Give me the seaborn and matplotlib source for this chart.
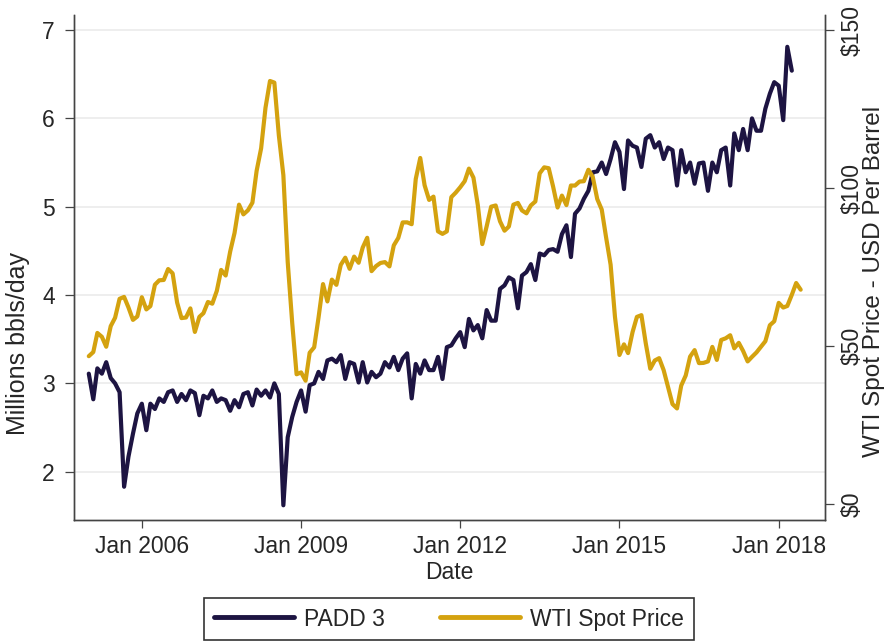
import pandas as pd
import matplotlib
matplotlib.use("Agg")
import matplotlib.pyplot as plt
import matplotlib.dates as mdates
import seaborn as sns

# PADD 3 crude output, million bbls/day, monthly Jan 2005 - Apr 2018
padd3 = [3.11, 2.82, 3.17, 3.11, 3.24, 3.06, 3.00, 2.90, 1.83, 2.17, 2.43, 2.66,
         2.77, 2.47, 2.77, 2.71, 2.83, 2.79, 2.90, 2.92, 2.79, 2.88, 2.81, 2.92,
         2.89, 2.64, 2.86, 2.83, 2.92, 2.79, 2.83, 2.81, 2.69, 2.81, 2.73, 2.88,
         2.90, 2.75, 2.93, 2.86, 2.92, 2.84, 3.00, 2.88, 1.62, 2.39, 2.62, 2.79,
         2.92, 2.68, 2.98, 3.00, 3.13, 3.05, 3.26, 3.28, 3.24, 3.32, 3.05, 3.24,
         3.22, 3.01, 3.24, 3.01, 3.13, 3.07, 3.11, 3.24, 3.18, 3.30, 3.15, 3.28,
         3.34, 2.83, 3.22, 3.11, 3.26, 3.15, 3.15, 3.30, 3.05, 3.41, 3.43, 3.51,
         3.58, 3.41, 3.73, 3.60, 3.66, 3.51, 3.83, 3.71, 3.71, 4.07, 4.11, 4.20,
         4.17, 3.85, 4.22, 4.26, 4.35, 4.17, 4.47, 4.45, 4.51, 4.52, 4.49, 4.69,
         4.79, 4.43, 4.92, 4.98, 5.09, 5.18, 5.39, 5.40, 5.50, 5.37, 5.54, 5.73,
         5.62, 5.20, 5.75, 5.69, 5.67, 5.45, 5.77, 5.81, 5.67, 5.73, 5.54, 5.67,
         5.64, 5.24, 5.64, 5.39, 5.50, 5.26, 5.49, 5.50, 5.18, 5.50, 5.39, 5.64,
         5.67, 5.24, 5.83, 5.64, 5.88, 5.64, 6.00, 5.86, 5.86, 6.11, 6.28, 6.41,
         6.37, 5.98, 6.81, 6.54]

# WTI spot price, USD per barrel, monthly Jan 2005 - Jun 2018
wti = [46.84, 48.15, 54.19, 52.98, 49.83, 56.35, 59.00, 64.99, 65.59, 62.26, 58.32, 59.41,
       65.49, 61.63, 62.69, 69.44, 70.84, 70.95, 74.41, 73.04, 63.80, 58.89, 59.08, 61.96,
       54.51, 59.28, 60.44, 63.98, 63.45, 67.49, 74.12, 72.36, 79.92, 85.80, 94.77, 91.69,
       92.97, 95.39, 105.45, 112.58, 125.40, 133.88, 133.37, 116.67, 104.11, 76.61, 57.31, 41.12,
       41.71, 39.09, 47.94, 49.65, 59.03, 69.64, 64.15, 71.05, 69.41, 75.72, 77.99, 74.47,
       78.33, 76.39, 81.20, 84.29, 73.74, 75.34, 76.32, 76.60, 75.24, 81.89, 84.25, 89.15,
       89.17, 88.58, 102.86, 109.53, 100.90, 96.26, 97.30, 86.33, 85.52, 86.32, 97.16, 98.56,
       100.27, 102.20, 106.16, 103.32, 94.66, 82.30, 87.90, 94.13, 94.51, 89.49, 86.53, 87.86,
       94.76, 95.31, 92.94, 92.02, 94.51, 95.77, 104.67, 106.57, 106.29, 100.54, 93.86, 97.63,
       94.62, 100.82, 100.80, 102.07, 102.18, 105.79, 103.59, 96.54, 93.21, 84.40, 75.79, 59.29,
       47.22, 50.58, 47.82, 54.45, 59.27, 59.82, 50.90, 42.87, 45.48, 46.22, 42.44, 37.19,
       31.68, 30.32, 37.55, 40.75, 46.71, 48.76, 44.65, 44.72, 45.18, 49.78, 45.66, 51.97,
       52.50, 53.47, 49.33, 51.06, 48.48, 45.18, 46.63, 48.04, 49.82, 51.58, 56.64, 57.88,
       63.70, 62.23, 62.72, 66.25, 69.98, 67.87]

tick_dates = ["2006-01-01", "2009-01-01", "2012-01-01", "2015-01-01", "2018-01-01"]
left_ticks = [2, 3, 4, 5, 6, 7]
right_ticks = [0, 50, 100, 150]
right_labels = [r"\$0", r"\$50", r"\$100", r"\$150"]

navy = "#1d1442"
gold = "#d4a20f"
edge = "#444444"

prod = pd.DataFrame({"date": pd.date_range("2005-01-01", periods=len(padd3), freq="MS"),
                     "mbd": padd3})
price = pd.DataFrame({"date": pd.date_range("2005-01-01", periods=len(wti), freq="MS"),
                      "usd": wti})

sns.set_style("white")
plt.rcParams["font.family"] = ["Liberation Sans", "DejaVu Sans"]

fig = plt.figure(figsize=(8.88, 6.42), dpi=100)
ax = fig.add_axes([0.0828, 0.1908, 0.8457, 0.7858])

sns.lineplot(data=prod, x="date", y="mbd", ax=ax, color=navy, lw=3.0,
             label="PADD 3", legend=False)
ax2 = ax.twinx()
sns.lineplot(data=price, x="date", y="usd", ax=ax2, color=gold, lw=3.0,
             label="WTI Spot Price", legend=False)

ax.set_xlim(pd.Timestamp("2004-09-18"), pd.Timestamp("2018-11-12"))
ax.set_ylim(1.459, 7.170)
ax2.set_ylim(-4.81, 154.74)

ax.set_xticks(pd.to_datetime(tick_dates))
ax.xaxis.set_major_formatter(mdates.DateFormatter("%b %Y"))
ax.set_yticks(left_ticks)
ax2.set_yticks(right_ticks)
ax2.set_yticklabels(right_labels, rotation=90, va="center")

ax.yaxis.grid(True, color="#ebebeb", lw=1.2)
ax.xaxis.grid(False)
ax2.grid(False)

for a in (ax, ax2):
    a.spines["top"].set_visible(False)
    for s in ("left", "right", "bottom"):
        a.spines[s].set_color(edge)
        a.spines[s].set_linewidth(1.0)

ax.tick_params(axis="x", bottom=True, direction="out", length=6, width=0.9,
               color=edge, labelsize=16.5, pad=5)
ax.tick_params(axis="y", left=True, direction="out", length=6.5, width=0.9,
               color=edge, labelsize=16.5, pad=7)
ax2.tick_params(axis="y", right=True, left=False, direction="out", length=6.5,
                width=0.9, color=edge, labelsize=16.5, pad=5)

ax.set_xlabel("Date", fontsize=16.5, va="center")
ax.xaxis.set_label_coords(0.5, -0.106)
ax.set_ylabel("Millions bbls/day", fontsize=18, va="center")
ax.yaxis.set_label_coords(-0.0739, 0.348)
ax2.set_ylabel("WTI Spot Price - USD Per Barrel", fontsize=17.5, va="center")
ax2.yaxis.set_label_coords(1.066, 0.471)

handles = [ax.get_lines()[0], ax2.get_lines()[0]]
leg = fig.legend(handles, ["PADD 3", "WTI Spot Price"], loc="center",
                 bbox_to_anchor=(0.5056, 0.0358), ncol=2, frameon=True,
                 fancybox=False, edgecolor="black", fontsize=16.5,
                 handlelength=3.5, handletextpad=0.45, columnspacing=2.4,
                 borderpad=0.4, borderaxespad=0.2)
leg.get_frame().set_linewidth(1.2)
for h in leg.legend_handles:
    h.set_linewidth(3.5)

fig.savefig("out.png", dpi=100)
